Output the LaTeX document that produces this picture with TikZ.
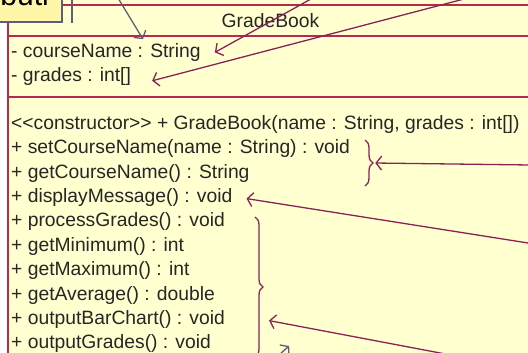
\documentclass[tikz,border=0pt]{standalone}
\usepackage{fontspec}
\setmainfont{Liberation Sans}
\usetikzlibrary{arrows.meta,positioning,decorations.pathreplacing}
\definecolor{classYellow}{HTML}{FFFFD0}
\definecolor{noteYellow}{HTML}{FFF6A8}
\definecolor{umlRed}{HTML}{B8294F}
\definecolor{notePurple}{HTML}{8B2257}
\definecolor{noteGray}{HTML}{5E5E7C}

\begin{document}
\begin{tikzpicture}[
    x=1pt, y=-1pt,
    node distance=0pt,
    member/.style={anchor=north west, inner sep=0pt, text height=13.8pt,
                   text depth=10.2pt, text=black!85,
                   font=\fontsize{19.3}{24}\selectfont},
    umlline/.style={draw=umlRed, line width=1.5pt},
    callout/.style={rectangle, draw=noteGray, fill=noteYellow, line width=2.4pt,
                    inner xsep=13pt, inner ysep=16pt, text depth=0pt,
                    font=\fontsize{30}{30}\selectfont},
    arrow/.style={-{Straight Barb[length=5.5pt,width=14pt]}, line width=1.3pt,
                  draw=notePurple},
    grayarrow/.style={arrow, draw=noteGray},
    brace/.style={decorate, decoration={brace, amplitude=8pt}, draw=notePurple,
                  line width=1.3pt},
]
    \useasboundingbox (0,0) rectangle (528,353);
    \clip (0,0) rectangle (528,353);
    \fill[white] (0,0) rectangle (528,353);
    \fill[classYellow] (8,0) rectangle (540,360);

    % class box
    \draw[umlline] (8,5) -- (540,5);
    \draw[umlline] (8,36) -- (540,36);
    \draw[umlline] (8,97) -- (540,97);
    \draw[umlline] (8,5) -- (8,360);
    \node[anchor=base, inner sep=0pt, text=black!85,
          font=\fontsize{19.3}{24}\selectfont] (title) at (270.5,28) {GradeBook};

    % attributes
    \node[member] (cname) at (11,43.2) {- courseName : String};
    \node[member, below=of cname.south west, anchor=north west] (grades)
         {- grades : int[]};

    % operations
    \node[member] (ctor) at (11,115.2)
         {<\kern0pt<constructor>\kern0pt>\ + GradeBook(name : String, grades : int[])};
    \node[member, below=of ctor.south west, anchor=north west] (setcn)
         {+ setCourseName(name : String) : void};
    \node[member, below=of setcn.south west, anchor=north west] (getcn)
         {+ getCourseName() : String};
    \node[member, below=of getcn.south west, anchor=north west] (dm)
         {+ displayMessage() : void};
    \node[member, below=of dm.south west, anchor=north west] (pg)
         {+ processGrades() : void};
    \node[member, below=of pg.south west, anchor=north west] (gmin)
         {+ getMinimum() : int};
    \node[member, below=of gmin.south west, anchor=north west] (gmax)
         {+ getMaximum() : int};
    \node[member, below=of gmax.south west, anchor=north west] (gavg)
         {+ getAverage() : double};
    \node[member, below=of gavg.south west, anchor=north west] (obc)
         {+ outputBarChart() : void};
    \node[member, below=of obc.south west, anchor=north west] (og)
         {+ outputGrades() : void};

    % braces
    \draw[brace] (365,140) -- (365,186)
         node[midway, right=8pt, inner sep=0pt] (b1) {};
    \draw[brace] (255,217) -- (255,357)
         node[midway, right=8pt, inner sep=0pt] (b2) {};

    % arrows from the notes
    \coordinate (noteA) at (118,-2);
    \coordinate (noteB) at (311,-1);
    \coordinate (noteC) at (464,-1);
    \coordinate (noteD) at (530,165);
    \coordinate (noteE) at (530,243.3);
    \coordinate (noteF) at (530,370);
    \coordinate (noteG) at (262,370);
    \draw[grayarrow] (noteA) -- ([xshift=132pt,yshift=4pt]cname.north west);
    \draw[arrow] (noteB) -- ([xshift=14pt,yshift=3pt]cname.east);
    \draw[arrow] (noteC) -- ([xshift=21pt,yshift=-1pt]grades.east);
    \draw[arrow] (noteD) -- ([xshift=9pt]b1);
    \draw[arrow] (noteE) -- ([xshift=14pt,yshift=2pt]dm.east);
    \draw[arrow] (noteF) -- ([xshift=44pt,yshift=2pt]obc.east);
    \draw[grayarrow] (noteG) -- ([xshift=78pt,yshift=1pt]og.east);

    % note box
    \node[callout, anchor=south east] (note) at (63,23) {buti};
    \draw[noteGray, line width=1.5pt] (72,-2) -- (72,23);
\end{tikzpicture}
\end{document}
